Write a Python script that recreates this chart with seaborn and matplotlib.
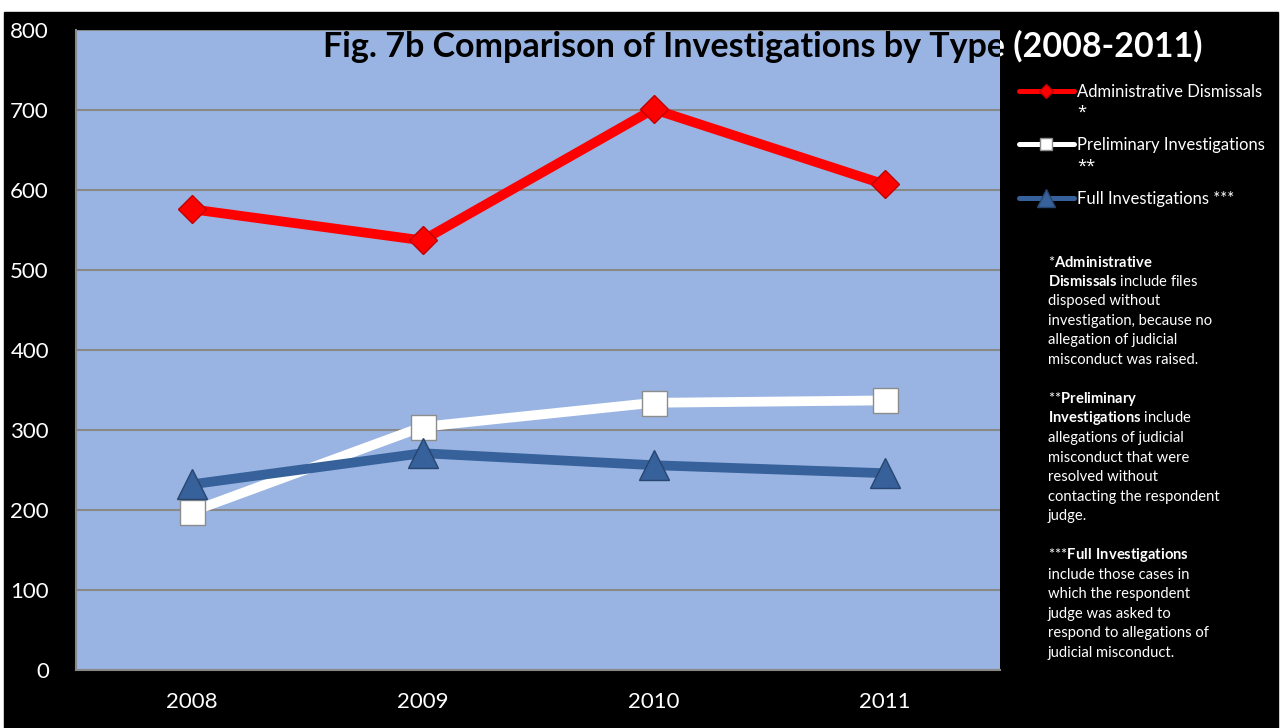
import matplotlib
matplotlib.use("Agg")
import matplotlib.pyplot as plt
import seaborn as sns
from matplotlib.patches import Rectangle

# data
years = ["2008", "2009", "2010", "2011"]
admin_dismissals = [576, 537, 701, 607]
preliminary = [198, 304, 334, 337]
full_investigations = [232, 271, 256, 246]
series_labels = ["Administrative Dismissals",
                 "Preliminary Investigations",
                 "Full Investigations ***"]
label_overflow = ["*", "**", ""]  # wrapped part of the legend labels
y_ticks = [0, 100, 200, 300, 400, 500, 600, 700, 800]
title = "Fig. 7b Comparison of Investigations by Type (2008-2011)"
notes = [
    r"*$\mathbf{Administrative}$",
    r"$\mathbf{Dismissals}$ include files",
    "disposed without",
    "investigation, because no",
    "allegation of judicial",
    "misconduct was raised.",
    "",
    r"**$\mathbf{Preliminary}$",
    r"$\mathbf{Investigations}$ include",
    "allegations of judicial",
    "misconduct that were",
    "resolved without",
    "contacting the respondent",
    "judge.",
    "",
    r"***$\mathbf{Full\ Investigations}$",
    "include those cases in",
    "which the respondent",
    "judge was asked to",
    "respond to allegations of",
    "judicial misconduct.",
]

sns.set_style("white")
plt.rcParams["font.family"] = ["Lato", "DejaVu Sans"]
plt.rcParams["mathtext.fontset"] = "custom"
plt.rcParams["mathtext.rm"] = "Lato"
plt.rcParams["mathtext.bf"] = "Lato:bold"

W, H = 1288, 728
fig = plt.figure(figsize=(W / 100, H / 100), dpi=100, facecolor="white")
fig.patches.append(Rectangle((4 / W, 0), (1278 - 4) / W, (H - 12) / H,
                             transform=fig.transFigure, color="black", zorder=-10))

ax = fig.add_axes([76 / W, (H - 670) / H, (1000 - 76) / W, 640 / H])
ax.set_facecolor("#99b4e2")

styles = [
    (admin_dismissals, "#ff0000", "D", 14.5, "#c00000"),
    (preliminary, "#ffffff", "s", 18, "#8c8c8c"),
    (full_investigations, "#36619a", "^", 21, "#27466f"),
]
for (vals, color, marker, ms, edge), label in zip(styles, series_labels):
    sns.lineplot(x=years, y=vals, ax=ax, color=color, lw=7, marker=marker,
                 markersize=ms, markeredgecolor=edge, markeredgewidth=1,
                 label=label, sort=False, zorder=3)

if ax.get_legend():
    ax.get_legend().remove()

ax.set_xlim(-0.5, 3.5)
ax.set_ylim(0, 800)
ax.set_yticks(y_ticks)
ax.set_xticks([-0.5, 0.5, 1.5, 2.5, 3.5], labels=[""] * 5)
ax.set_xticks(range(len(years)), labels=years, minor=True)
ax.tick_params(axis="y", length=6.5, width=1.5, color="#888888", pad=13,
               labelcolor="white", labelsize=16)
ax.tick_params(axis="x", which="major", length=6, width=1.5, color="#888888")
ax.tick_params(axis="x", which="minor", length=0, pad=16,
               labelcolor="white", labelsize=16)
ax.set_xlabel("")
ax.set_ylabel("")
ax.yaxis.grid(True, color="#888888", lw=1.5)
ax.set_axisbelow(True)
for side in ["top", "right"]:
    ax.spines[side].set_visible(False)
for side in ["left", "bottom"]:
    ax.spines[side].set_color("#888888")
    ax.spines[side].set_linewidth(1.5)

# title: white over the black frame, black where it sits on the plot area
tx, ty = 763 / W, 1 - 46 / H
fig.text(tx, ty, title, color="white", fontsize=24.5, weight="bold",
         ha="center", va="center", zorder=-1)
t2 = ax.text(tx, ty, title, color="black", fontsize=24.5, weight="bold",
             ha="center", va="center", transform=fig.transFigure)
t2.set_clip_on(True)
t2.set_clip_box(ax.bbox)

handles, labels = ax.get_legend_handles_labels()
leg = fig.legend(handles, labels, loc="upper left",
                 bbox_to_anchor=(1012 / W, 1 - 77 / H), frameon=False,
                 labelcolor="white", fontsize=12, handlelength=3.3,
                 handletextpad=0.2, labelspacing=2.25, borderaxespad=0)
for h, ms in zip(leg.legend_handles, [7.5, 8.5, 13]):
    h.set_linewidth(3.6)
    h.set_markersize(ms)

fig.canvas.draw()
inv = fig.transFigure.inverted()
for t, extra in zip(leg.get_texts(), label_overflow):
    if extra:
        bb = t.get_window_extent()
        x0, y0 = inv.transform((bb.x0, (bb.y0 + bb.y1) / 2 - 21))
        fig.text(x0, y0, extra, color="white", fontsize=12, va="center",
                 family=["Open Sans", "DejaVu Sans"])

for i, line in enumerate(notes):
    if line:
        fig.text(1048 / W, 1 - (262 + i * 19.55) / H, line, color="white",
                 fontsize=10.6, va="center")

fig.savefig("out.png", dpi=100, facecolor=fig.get_facecolor())
